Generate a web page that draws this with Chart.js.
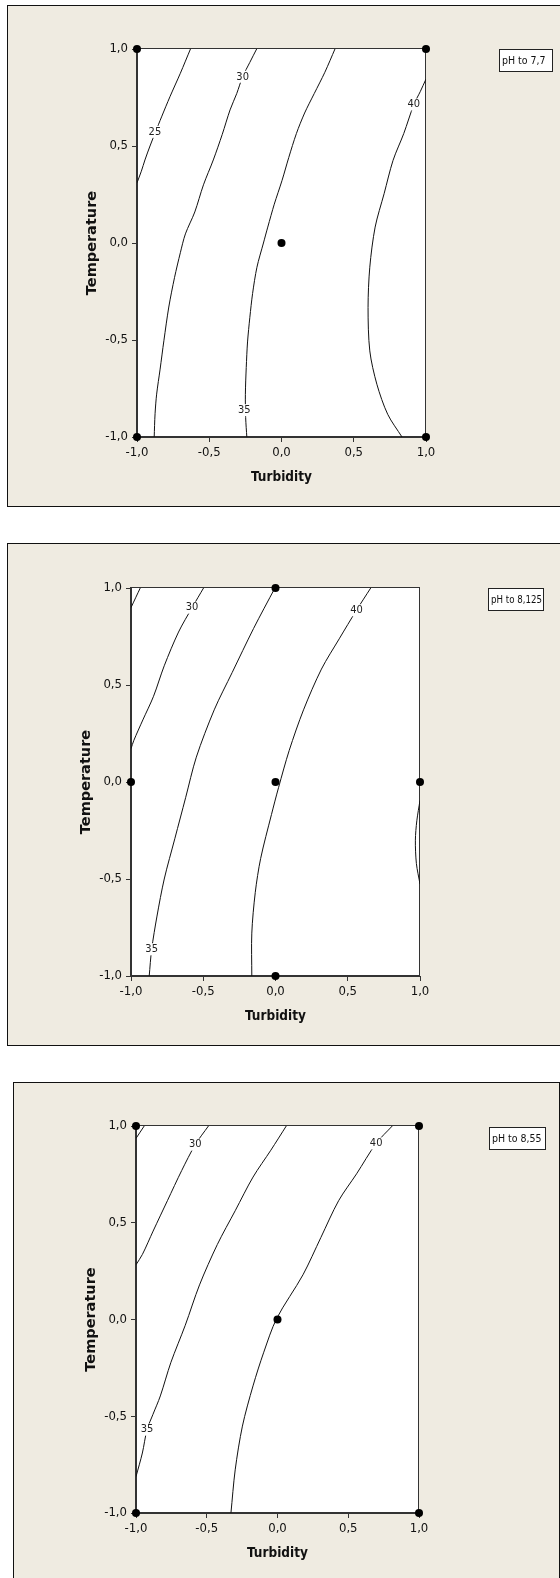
<!DOCTYPE html>
<html>
<head>
<meta charset="utf-8">
<script src="https://cdn.jsdelivr.net/npm/chart.js@4.4.1/dist/chart.umd.min.js"></script>
<style>
    html, body { margin: 0; padding: 0; background: #fff; overflow: hidden; }
    body { width: 560px; height: 1578px; position: relative; }
    .panel { position: absolute; background: #efebe1; border: 1px solid #111; box-sizing: border-box; }
    .panel canvas { position: absolute; left: 0; top: 0; }
</style>
</head>
<body>
<div class="panel" id="p1"><canvas></canvas></div>
<div class="panel" id="p2"><canvas></canvas></div>
<div class="panel" id="p3"><canvas></canvas></div>
<script>
// Axis text
const xTitle = 'Turbidity';
const yTitle = 'Temperature';
const tickValues = [-1, -0.5, 0, 0.5, 1];
const panelTitles = ['pH to 7,7', 'pH to 8,125', 'pH to 8,55'];

// pH 7,7 contours [turbidity, temperature]
const ph77_25 = [[-0.63, 1], [-0.70, 0.875], [-0.772, 0.754], [-0.83, 0.65], [-0.871, 0.574], [-0.91, 0.50], [-0.945, 0.428], [-0.97, 0.37], [-1, 0.31]];
const ph77_30 = [[-0.172, 1], [-0.22, 0.93], [-0.269, 0.857], [-0.31, 0.77], [-0.356, 0.686], [-0.41, 0.56], [-0.472, 0.428], [-0.54, 0.30], [-0.60, 0.16], [-0.665, 0.047], [-0.70, -0.05], [-0.74, -0.177], [-0.78, -0.33], [-0.814, -0.504], [-0.84, -0.65], [-0.864, -0.779], [-0.875, -0.88], [-0.881, -1]];
const ph77_35 = [[0.37, 1], [0.30, 0.88], [0.227, 0.771], [0.16, 0.67], [0.103, 0.564], [0.05, 0.44], [0.004, 0.323], [-0.05, 0.20], [-0.095, 0.082], [-0.125, 0], [-0.17, -0.125], [-0.20, -0.26], [-0.219, -0.383], [-0.235, -0.51], [-0.244, -0.642], [-0.25, -0.78], [-0.248, -0.9], [-0.24, -1]];
const ph77_40 = [[1, 0.845], [0.96, 0.78], [0.916, 0.714], [0.846, 0.564], [0.772, 0.426], [0.71, 0.254], [0.648, 0.082], [0.611, -0.125], [0.599, -0.332], [0.611, -0.556], [0.66, -0.728], [0.735, -0.883], [0.834, -1]];
const ph77_points = [[-1, 1], [1, 1], [0, 0], [-1, -1], [1, -1]];
const ph77_labelText = ['25', '30', '35', '40'];
const ph77_labelPos = [[-0.876, 0.573], [-0.269, 0.857], [-0.257, -0.862], [0.916, 0.714]];

// pH 8,125 contours
const ph8125_25 = [[-0.936, 1], [-1, 0.899]];
const ph8125_30 = [[-0.498, 1], [-0.577, 0.899], [-0.671, 0.773], [-0.770, 0.599], [-0.844, 0.442], [-0.918, 0.320], [-0.980, 0.215], [-1, 0.172]];
const ph8125_35 = [[-0.004, 1], [-0.152, 0.791], [-0.300, 0.564], [-0.424, 0.372], [-0.548, 0.128], [-0.622, -0.081], [-0.696, -0.290], [-0.770, -0.500], [-0.820, -0.691], [-0.857, -0.862], [-0.874, -1]];
const ph8125_40 = [[0.659, 1], [0.560, 0.885], [0.441, 0.738], [0.318, 0.582], [0.194, 0.372], [0.095, 0.163], [0.021, -0.029], [-0.028, -0.168], [-0.103, -0.395], [-0.140, -0.569], [-0.164, -0.779], [-0.164, -1]];
const ph8125_45 = [[1, -0.095], [0.978, -0.2], [0.968, -0.30], [0.975, -0.42], [1, -0.526]];
const ph8125_points = [[0, 1], [-1, 0], [0, 0], [1, 0], [0, -1]];
const ph8125_labelText = ['30', '35', '40'];
const ph8125_labelPos = [[-0.577, 0.899], [-0.857, -0.862], [0.560, 0.885]];

// pH 8,55 contours
const ph855_25 = [[-0.942, 1], [-1, 0.936]];
const ph855_30 = [[-0.488, 1], [-0.581, 0.904], [-0.677, 0.770], [-0.778, 0.614], [-0.879, 0.457], [-0.955, 0.336], [-1, 0.283]];
const ph855_35 = [[0.062, 1], [-0.047, 0.875], [-0.173, 0.736], [-0.299, 0.562], [-0.425, 0.388], [-0.551, 0.179], [-0.652, -0.030], [-0.753, -0.221], [-0.828, -0.395], [-0.88, -0.49], [-0.922, -0.569], [-0.955, -0.690], [-1, -0.812]];
const ph855_40 = [[0.811, 1], [0.697, 0.910], [0.559, 0.753], [0.432, 0.614], [0.306, 0.423], [0.180, 0.231], [-0.006, 0.005], [-0.097, -0.169], [-0.173, -0.343], [-0.248, -0.551], [-0.299, -0.777], [-0.329, -1]];
const ph855_points = [[-1, 1], [1, 1], [0, 0], [-1, -1], [1, -1]];
const ph855_labelText = ['30', '35', '40'];
const ph855_labelPos = [[-0.581, 0.904], [-0.922, -0.569], [0.697, 0.910]];

const NARROW = "'DejaVu Sans Condensed', 'DejaVu Sans', sans-serif";
const BOLD = "'DejaVu Sans', Verdana, sans-serif";

// page layout of each panel (box, plot area, legend box)
const panels = [
    {
        id: 'p1', title: panelTitles[0],
        box: { x: 7, y: 5, w: 560, h: 502 },
        plot: { l: 137, t: 49, r: 426, b: 437 },
        legend: { x: 499, y: 49, w: 54, h: 23 },
        lines: [ph77_25, ph77_30, ph77_35, ph77_40],
        points: ph77_points, labelText: ph77_labelText, labelPos: ph77_labelPos
    },
    {
        id: 'p2', title: panelTitles[1],
        box: { x: 7, y: 543, w: 560, h: 503 },
        plot: { l: 131, t: 588, r: 420, b: 976 },
        legend: { x: 488, y: 588, w: 56, h: 23 },
        lines: [ph8125_25, ph8125_30, ph8125_35, ph8125_40, ph8125_45],
        points: ph8125_points, labelText: ph8125_labelText, labelPos: ph8125_labelPos
    },
    {
        id: 'p3', title: panelTitles[2],
        box: { x: 13, y: 1082, w: 547, h: 520 },
        plot: { l: 136, t: 1126, r: 419, b: 1513 },
        legend: { x: 489, y: 1127, w: 57, h: 23 },
        lines: [ph855_25, ph855_30, ph855_35, ph855_40],
        points: ph855_points, labelText: ph855_labelText, labelPos: ph855_labelPos
    }
];

function fmt(v) {
    return v.toFixed(1).replace('.', ',');
}

const toXY = arr => arr.map(p => ({ x: p[0], y: p[1] }));

// white plot area, frame, contour labels, pH box
const decoPlugin = {
    id: 'deco',
    beforeDraw(chart) {
        const a = chart.chartArea, ctx = chart.ctx;
        ctx.save();
        ctx.fillStyle = '#fff';
        ctx.fillRect(a.left, a.top, a.right - a.left, a.bottom - a.top);
        ctx.restore();
    },
    beforeDatasetsDraw(chart) {
        const a = chart.chartArea, ctx = chart.ctx;
        ctx.save();
        ctx.strokeStyle = '#333';
        ctx.lineWidth = 1;
        ctx.strokeRect(a.left - 0.5, a.top - 0.5, a.right - a.left, a.bottom - a.top);
        ctx.restore();
    },
    afterDatasetsDraw(chart, args, opts) {
        const ctx = chart.ctx;
        const xs = chart.scales.x, ys = chart.scales.y;
        ctx.save();
        ctx.font = '11px ' + NARROW;
        ctx.textAlign = 'center';
        ctx.textBaseline = 'middle';
        opts.labelText.forEach((t, i) => {
            const px = xs.getPixelForValue(opts.labelPos[i][0]);
            const py = ys.getPixelForValue(opts.labelPos[i][1]);
            const w = ctx.measureText(t).width;
            ctx.fillStyle = '#fff';
            ctx.fillRect(px - w / 2 - 1, py - 6, w + 2, 12);
            ctx.fillStyle = '#222';
            ctx.fillText(t, px, py);
        });
        ctx.restore();
    },
    afterDraw(chart, args, opts) {
        const ctx = chart.ctx, lg = opts.legend;
        ctx.save();
        ctx.fillStyle = '#fff';
        ctx.fillRect(lg.x, lg.y, lg.w, lg.h);
        ctx.strokeStyle = '#222';
        ctx.lineWidth = 1;
        ctx.strokeRect(lg.x + 0.5, lg.y + 0.5, lg.w - 1, lg.h - 1);
        ctx.fillStyle = '#111';
        ctx.font = '10.5px ' + NARROW;
        ctx.textBaseline = 'middle';
        ctx.fillText(opts.title, lg.x + 3, lg.y + lg.h / 2 + 0.5, lg.w - 5);
        ctx.restore();
    }
};

function makeChart(panel) {
    const box = panel.box, plot = panel.plot;
    const div = document.getElementById(panel.id);
    div.style.left = box.x + 'px';
    div.style.top = box.y + 'px';
    div.style.width = box.w + 'px';
    div.style.height = box.h + 'px';

    const cx = box.x + 1, cy = box.y + 1;
    const cw = box.w - 2, ch = box.h - 2;
    const canvas = div.querySelector('canvas');
    canvas.width = cw;
    canvas.height = ch;

    const leftW = plot.l - cx;
    const bottomH = ch - (plot.b - cy);
    const yTitleSize = 14.5, xTitleSize = 13.5;
    const yTitlePad = (plot.l - 45 - cx) - yTitleSize * 1.2 / 2;
    const xTitlePad = (ch - (plot.b + 40 - cy)) - xTitleSize * 1.2 / 2;

    const datasets = [{
        data: toXY(panel.points),
        showLine: false,
        pointRadius: 4,
        pointBackgroundColor: '#000',
        pointBorderWidth: 0,
        clip: false,
        order: 0
    }];
    panel.lines.forEach(line => {
        datasets.push({
            data: toXY(line),
            showLine: true,
            borderColor: '#111',
            borderWidth: 1,
            pointRadius: 0,
            tension: 0.3,
            order: 1
        });
    });

    const axis = (title, size, pad, isX) => ({
        type: 'linear',
        min: -1,
        max: 1,
        afterBuildTicks: s => { s.ticks = tickValues.map(v => ({ value: v })); },
        afterFit: s => {
            if (isX) s.height = bottomH; else s.width = leftW;
            s.paddingLeft = 0; s.paddingRight = 0;
            s.paddingTop = 0; s.paddingBottom = 0;
        },
        ticks: {
            callback: v => fmt(v),
            color: '#111',
            padding: isX ? 3 : 4,
            maxRotation: 0,
            autoSkip: false,
            font: { family: NARROW, size: 13 }
        },
        grid: { drawOnChartArea: false, drawTicks: true, tickLength: 5, color: '#333' },
        border: { display: true, color: '#333' },
        title: {
            display: true,
            text: title,
            color: '#111',
            font: { family: isX ? NARROW : BOLD, size: size, weight: 'bold', lineHeight: 1.2 },
            padding: isX ? { top: 0, bottom: pad } : { top: pad, bottom: 0 }
        }
    });

    new Chart(canvas, {
        type: 'scatter',
        data: { datasets: datasets },
        plugins: [decoPlugin],
        options: {
            responsive: false,
            animation: false,
            layout: { padding: { left: 0, top: plot.t - cy, right: cw - (plot.r - cx), bottom: 0 } },
            scales: {
                x: axis(xTitle, xTitleSize, xTitlePad, true),
                y: axis(yTitle, yTitleSize, yTitlePad, false)
            },
            plugins: {
                legend: { display: false },
                tooltip: { enabled: false },
                deco: {
                    title: panel.title,
                    legend: { x: panel.legend.x - cx, y: panel.legend.y - cy, w: panel.legend.w, h: panel.legend.h },
                    labelText: panel.labelText,
                    labelPos: panel.labelPos
                }
            }
        }
    });
}

panels.forEach(makeChart);
</script>
</body>
</html>
